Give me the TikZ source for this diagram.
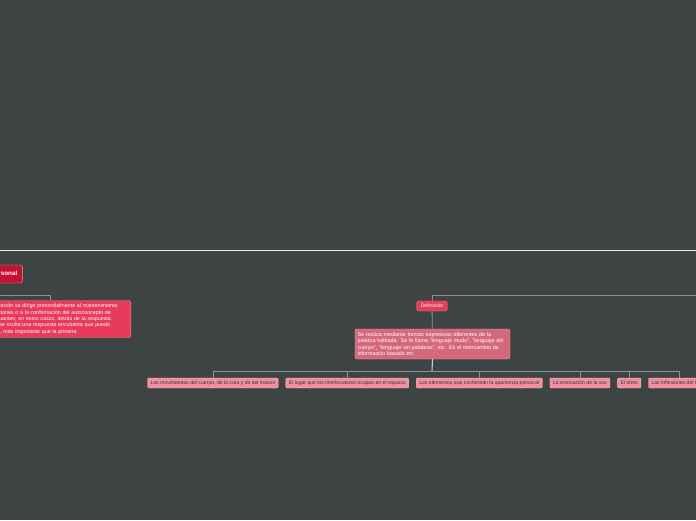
\documentclass[tikz,border=0pt]{standalone}
\usepackage{fontspec}
\setmainfont{Liberation Sans}
\usetikzlibrary{positioning}
\definecolor{canvasgray}{RGB}{62, 68, 68}
\definecolor{linkgray}{RGB}{140, 146, 146}
\definecolor{topred}{RGB}{196, 18, 48}
\definecolor{mainpink}{RGB}{232, 58, 91}
\definecolor{descpink}{RGB}{214, 104, 124}
\definecolor{leafpink}{RGB}{240, 144, 158}

\begin{document}
\begin{tikzpicture}[x=1pt, y=-1pt, node distance=7.3pt,
    topic/.style={draw=topred!40!white, fill=topred, rounded corners=2pt, text=white, font=\fontsize{6.3}{7}\selectfont\bfseries, minimum height=18pt, inner xsep=5pt},
    textbox/.style={draw=mainpink!60!white, fill=mainpink, rounded corners=2pt, text=white, align=left, font=\fontsize{5.4}{6.3}\selectfont, inner xsep=2.5pt},
    subtopic/.style={draw=mainpink!60!white, fill=mainpink, rounded corners=1.5pt, text=white, font=\fontsize{5.1}{6}\selectfont, minimum height=10pt, inner xsep=4pt, inner ysep=0pt},
    leaf/.style={draw=leafpink!60!white, fill=leafpink, rounded corners=1pt, text=black!80, font=\fontsize{5.1}{6}\selectfont, minimum height=10pt, inner xsep=3pt, inner ysep=0pt},
    link/.style={draw=linkgray, line width=0.8pt}]
    \useasboundingbox (0,0) rectangle (696,520);
    \clip (0,0) rectangle (696,520);
    \fill[canvasgray] (0,0) rectangle (696,520);
    \draw[white!92!black, line width=1.5pt] (-5,250.5) -- (701,250.5);

    % Nodes
    \node (inter) [topic, anchor=east] at (22.5,274) {Comunicación interpersonal};
    \node (relac) [textbox, anchor=east, minimum height=37pt, text width=155pt, font=\fontsize{5.3}{6.3}\selectfont] at (131,319)
        {La comunicación se dirige primordialmente al mantenimiento\\
         de las relaciones o a la confirmación del autoconcepto de\\
         los interactuantes; en estos casos, detrás de la respuesta\\
         manifiesta se oculta una respuesta encubierta que puede\\
         ser, incluso, más importante que la primera.};
    \node (def) [subtopic] at (432,306) {Definición};
    \node (desc) [textbox, fill=descpink, draw=descpink!60!white, text width=150pt, minimum height=30pt] at (432.5,344)
        {Se realiza mediante formas expresivas diferentes de la\\
         palabra hablada. Se le llama "lenguaje mudo", "lenguaje del\\
         cuerpo", "lenguaje sin palabras", etc. Es el intercambio de\\
         información basado en:};
    \node (mov) [leaf, anchor=west] at (147.5,383) {Los movimientos del cuerpo, de la cara y de las manos};
    \node (lugar) [leaf, right=of mov] {El lugar que los interlocutores ocupan en el espacio};
    \node (apar) [leaf, right=of lugar] {Los elementos que conforman la apariencia personal};
    \node (ento) [leaf, right=of apar] {La entonación de la voz};
    \node (ritmo) [leaf, right=of ento] {El ritmo};
    \node (infl) [leaf, right=of ritmo] {Las inflexiones del habla};
    \coordinate (leftin) at (-5,295);
    \coordinate (rightin) at (701,295);
    \coordinate (bus) at (432,371);

    % Links
    \draw[link] (leftin) -| (relac.north);
    \draw[link] (rightin) -| (def.north);
    \draw[link] (def) -- (desc);
    \draw[link, draw=white!80!black, line width=1.1pt] (desc.south) -- (bus);
    \foreach \leafname in {mov, lugar, apar, ento, ritmo, infl}
        \draw[link] (bus) -| (\leafname.north);
\end{tikzpicture}
\end{document}
